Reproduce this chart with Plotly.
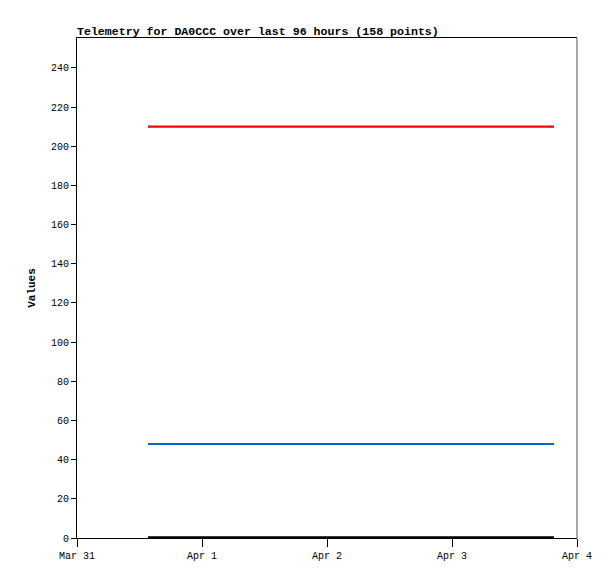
import plotly.graph_objects as go

# Data
times = ["2024-03-31 13:38", "2024-04-03 19:35"]
red_vals = [210, 210]
blue_vals = [48, 48]
black_vals = [0.3, 0.3]

x_ticks = ["2024-03-31", "2024-04-01", "2024-04-02", "2024-04-03", "2024-04-04"]
x_tick_labels = ["Mar 31", "Apr 1", "Apr 2", "Apr 3", "Apr 4"]
y_ticks = [0, 20, 40, 60, 80, 100, 120, 140, 160, 180, 200, 220, 240]

fig = go.Figure()
fig.add_trace(go.Scatter(x=times, y=red_vals, mode="lines",
                         line=dict(color="#ff0000", width=2.2), showlegend=False))
fig.add_trace(go.Scatter(x=times, y=blue_vals, mode="lines",
                         line=dict(color="#0066cc", width=2.2), showlegend=False))
fig.add_trace(go.Scatter(x=times, y=black_vals, mode="lines",
                         line=dict(color="#000000", width=2.2), showlegend=False))

mono = "Liberation Mono, DejaVu Sans Mono, monospace"
W, H = 607, 571
fig.update_layout(
    width=W, height=H,
    margin=dict(l=69, r=38, t=30, b=41),
    paper_bgcolor="white", plot_bgcolor="white",
    title=dict(text="<b>Telemetry for DA0CCC over last 96 hours (158 points)</b>",
               x=69/W, xanchor="left", y=1-23/H, yanchor="middle",
               font=dict(family=mono, size=11.6, color="black")),
    xaxis=dict(range=["2024-03-31", "2024-04-04"], tickvals=x_ticks, ticktext=x_tick_labels,
               showgrid=False, zeroline=False, showline=True, linecolor="black", linewidth=1,
               mirror=True, ticks="outside", ticklen=8, tickcolor="black",
               tickfont=dict(family=mono, size=10, color="black")),
    yaxis=dict(range=[0, 255.3], tickvals=y_ticks, showgrid=False, zeroline=False,
               showline=True, linecolor="black", linewidth=1, ticks="outside", ticklen=5,
               tickcolor="black", tickfont=dict(family=mono, size=10, color="black"),
               title=dict(text="<b>Values</b>", font=dict(family=mono, size=11, color="black"),
                          standoff=13)),
    shapes=[dict(type="line", xref="paper", yref="paper", x0=1, x1=1, y0=0, y1=1,
                 line=dict(color="#555555", width=1))],
)

fig.write_html("out.html")
